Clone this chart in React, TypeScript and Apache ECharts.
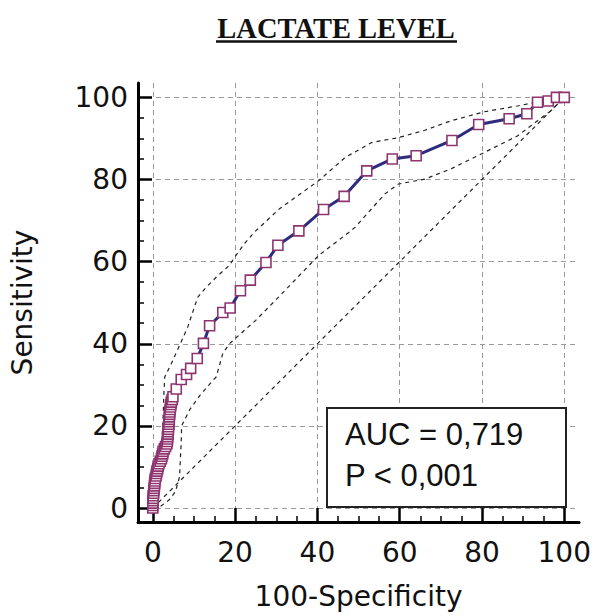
import React, { useEffect, useRef } from "react";
import * as echarts from "echarts";

const titleText = "LACTATE LEVEL";
const xName = "100-Specificity";
const yName = "Sensitivity";
const aucLines = ["AUC = 0,719", "P < 0,001"];

const majorTicks = [0, 20, 40, 60, 80, 100];
const minorTicks = [5, 10, 15, 25, 30, 35, 45, 50, 55, 65, 70, 75, 85, 90, 95];

// ROC curve points (100-Specificity, Sensitivity)
const rocX = [
  0, 0, 0, 0, 0.1, 0.1, 0.2, 0.24, 0.3, 0.4, 0.45, 0.5, 0.6, 0.8, 0.9, 1.0, 1.2, 1.3, 1.5, 1.8, 2.1,
  2.2, 2.4, 2.5, 2.8, 3.1, 3.4, 3.5, 3.6, 3.6, 3.7, 3.7, 3.8, 3.8, 3.9, 3.9, 4.0, 4.0, 4.1, 4.1, 4.2,
  4.3, 4.4, 4.5, 4.7, 4.9,
  5.7, 6.9, 8.2, 9.2, 10.8, 12.3, 13.8, 17.0, 18.8, 21.3, 23.7, 27.5, 30.4, 35.5, 41.5, 46.5, 52.0,
  58.2, 64.0, 72.7, 79.2, 86.6, 90.9, 93.5, 96.1, 98.1, 100,
];
const rocY = [
  0, 0.6, 1.2, 1.8, 2.4, 3, 3.6, 4.2, 4.8, 5.4, 6, 6.6, 7.2, 7.8, 8.4, 9, 9.6, 10.2, 10.8, 11.4, 12,
  12.6, 13.2, 13.8, 14.4, 15, 15.6, 16.2, 16.8, 17.4, 18, 18.6, 19.2, 19.8, 20.4, 21, 21.6, 22.2, 22.8, 23.4, 24,
  24.6, 25.2, 25.8, 26.4, 27.1,
  29, 31.3, 32.5, 34, 36.4, 40.1, 44.4, 47.6, 48.7, 52.9, 55.5, 59.8, 64.0, 67.5, 72.7, 75.9, 82.1,
  85.0, 85.8, 89.5, 93.4, 94.8, 96.0, 98.8, 99.1, 100, 100,
];

// Upper confidence band
const upperX = [0, 0.5, 1.2, 1.8, 2.2, 2.5, 2.7, 2.9, 4.5, 6.5, 8.5, 9.7, 10.9, 13, 15.4, 18.6, 20.2, 22.2, 24.6, 30.7, 40.3, 46.8, 53.2, 59.7, 66.1, 72.5, 80.6, 88.6, 93.5, 100];
const upperY = [0.5, 2, 6, 10, 15, 22, 28, 31.9, 35.2, 39.6, 44.1, 47.7, 51.3, 53.8, 56.2, 59.1, 61.5, 64.3, 67.1, 72.8, 79.7, 85.4, 89.0, 90.2, 92.0, 94.3, 96.5, 97.9, 98.9, 100];

// Lower confidence band
const lowerX = [0, 2, 4, 5.5, 6.5, 6.7, 6.9, 7, 9, 11.5, 14.6, 15.4, 17, 18.6, 25, 30.7, 40.3, 47.6, 49.2, 56.4, 59.7, 66.1, 72.5, 80.6, 88.6, 93.5, 96.7, 100];
const lowerY = [0, 0.5, 2, 4, 7.6, 12, 16, 20, 24, 27.5, 31.1, 31.9, 37.6, 40.0, 45.7, 51.5, 61.5, 67.1, 68.4, 76.5, 78.9, 80.1, 82.6, 86.6, 90.6, 94.3, 96.7, 100];

const diagX = [0, 100];
const diagY = [0, 100];

const pairs = (xs: number[], ys: number[]) => xs.map((x, i) => [x, ys[i]]);

const tickFont = "DejaVu Sans";

export default function App() {
  const ref = useRef<HTMLDivElement>(null);
  useEffect(() => {
    if (!ref.current) return;
    const chart = echarts.init(ref.current, null, { renderer: "svg" });
    const bandStyle = { color: "#222", width: 1.2, type: [4, 4] as any };
    const gridSplit = { show: true, lineStyle: { color: "#9a9a9a", width: 1, type: [5, 4] as any } };
    const xMin = -3.6, xMax = 103.6, yMin = -3.4, yMax = 103.5;
    chart.setOption({
      animation: false,
      backgroundColor: "#fff",
      grid: { left: 138, right: 12, top: 83, bottom: 94, containLabel: false },
      xAxis: [
        {
          type: "value", min: xMin, max: xMax, position: "bottom",
          axisLine: { show: true, onZero: false, lineStyle: { color: "#000", width: 3 } },
          axisTick: { show: true, inside: true, length: 14, customValues: majorTicks, lineStyle: { color: "#000", width: 2.5 } },
          axisLabel: { customValues: majorTicks, fontSize: 28, fontFamily: tickFont, color: "#111", margin: 16 },
          splitLine: gridSplit,
          name: xName, nameLocation: "middle", nameGap: 60,
          nameTextStyle: { fontSize: 28, fontFamily: tickFont, color: "#111" },
        },
        {
          type: "value", min: xMin, max: xMax, position: "bottom",
          axisLine: { show: false, onZero: false },
          axisTick: { show: true, inside: true, length: 6, customValues: minorTicks, lineStyle: { color: "#000", width: 1.5 } },
          axisLabel: { show: false },
          splitLine: { show: false },
        },
      ],
      yAxis: [
        {
          type: "value", min: yMin, max: yMax, position: "left",
          axisLine: { show: true, onZero: false, lineStyle: { color: "#000", width: 3 } },
          axisTick: { show: true, inside: true, length: 14, customValues: majorTicks, lineStyle: { color: "#000", width: 2.5 } },
          axisLabel: { customValues: majorTicks, fontSize: 28, fontFamily: tickFont, color: "#111", margin: 10 },
          splitLine: gridSplit,
          name: yName, nameLocation: "middle", nameGap: 102,
          nameTextStyle: { fontSize: 28, fontFamily: tickFont, color: "#111" },
        },
        {
          type: "value", min: yMin, max: yMax, position: "left",
          axisLine: { show: false, onZero: false },
          axisTick: { show: true, inside: true, length: 6, customValues: minorTicks, lineStyle: { color: "#000", width: 1.5 } },
          axisLabel: { show: false },
          splitLine: { show: false },
        },
      ],
      series: [
        { type: "line", data: pairs(diagX, diagY), showSymbol: false, symbol: "none", lineStyle: bandStyle, z: 2, silent: true },
        { type: "line", data: pairs(upperX, upperY), showSymbol: false, symbol: "none", lineStyle: bandStyle, z: 2, silent: true },
        { type: "line", data: pairs(lowerX, lowerY), showSymbol: false, symbol: "none", lineStyle: bandStyle, z: 2, silent: true },
        {
          type: "line", data: pairs(rocX, rocY), symbol: "rect", symbolSize: 10, showAllSymbol: true,
          lineStyle: { color: "#2E2C7E", width: 3 },
          itemStyle: { color: "#fff", borderColor: "#8E3570", borderWidth: 1.6 },
          z: 3,
        },
      ],
      graphic: [
        {
          type: "text", x: 336, y: 28,
          style: { text: titleText, font: "bold 28.5px 'Liberation Serif', 'Times New Roman', serif", fill: "#111", textAlign: "center", textVerticalAlign: "middle" },
        },
        { type: "line", shape: { x1: 216, y1: 41.5, x2: 457, y2: 41.5 }, style: { stroke: "#111", lineWidth: 2.5 } },
        {
          type: "rect", shape: { x: 327, y: 408, width: 239, height: 99 },
          style: { fill: "#fff", stroke: "#222", lineWidth: 2 }, z: 10,
        },
        {
          type: "text", x: 345, y: 434, z: 11,
          style: { text: aucLines[0], font: "31px 'Liberation Sans', Arial, sans-serif", fill: "#111", textAlign: "left", textVerticalAlign: "middle" },
        },
        {
          type: "text", x: 345, y: 475, z: 11,
          style: { text: aucLines[1], font: "31px 'Liberation Sans', Arial, sans-serif", fill: "#111", textAlign: "left", textVerticalAlign: "middle" },
        },
      ],
    });
    return () => chart.dispose();
  }, []);
  return <div ref={ref} style={{ position: "fixed", left: 0, top: 0, width: 594, height: 616 }} />;
}
